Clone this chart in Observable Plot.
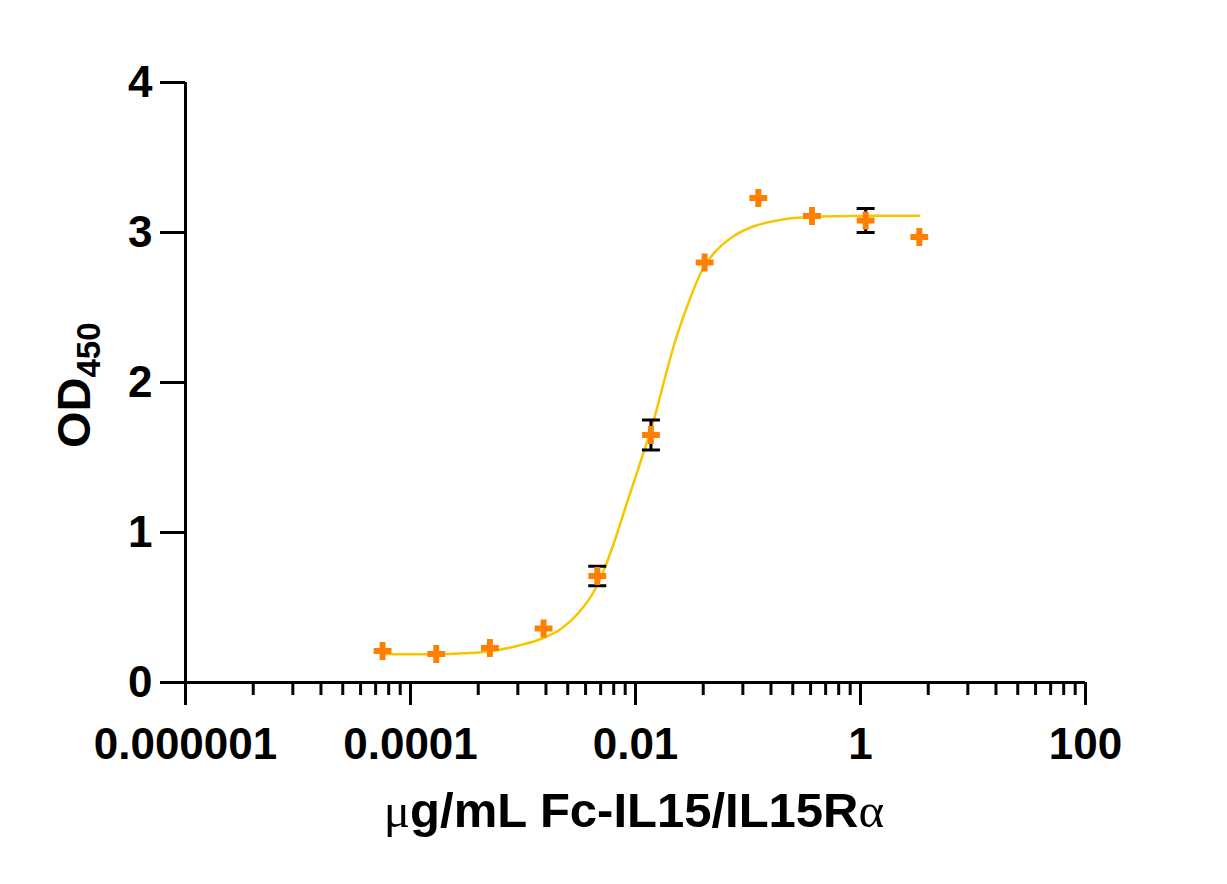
<!DOCTYPE html>
<html>
<head>
<meta charset="utf-8">
<script src="https://cdn.jsdelivr.net/npm/d3@7"></script>
<script src="https://cdn.jsdelivr.net/npm/@observablehq/plot@0.6"></script>
<style>
  html, body { margin: 0; padding: 0; background: #fff; }
  svg { display: block; }
</style>
</head>
<body>
<script>
// ---- data ----
const concentration = [3.333, 1.111, 0.3704, 0.1235, 0.04115, 0.01372, 0.004572, 0.001524, 0.000508, 0.0001694, 0.00005645];
const od450 = [2.97, 3.08, 3.11, 3.23, 2.80, 1.65, 0.71, 0.36, 0.23, 0.19, 0.21];
const sdev = [0, 0.08, 0, 0, 0, 0.10, 0.065, 0, 0, 0, 0];

// fitted curve
const curveX = [0.0000569, 0.0001, 0.000169, 0.0003, 0.000504, 0.0009, 0.0015, 0.0022, 0.00308, 0.00433, 0.0053, 0.0065, 0.008, 0.0098, 0.012, 0.0148, 0.0181, 0.0222, 0.0292, 0.0397, 0.054, 0.076, 0.107, 0.197, 0.365, 1.09, 3.33];
const curveY = [0.19, 0.188, 0.188, 0.195, 0.207, 0.245, 0.295, 0.36, 0.46, 0.615, 0.76, 0.94, 1.15, 1.35, 1.55, 1.77, 2.02, 2.26, 2.52, 2.76, 2.89, 2.98, 3.035, 3.085, 3.103, 3.111, 3.112];

const xMajorTicks = [1e-6, 1e-4, 1e-2, 1, 100];
const xTickLabels = ["0.000001", "0.0001", "0.01", "1", "100"];
const xMinorMultipliers = [4, 9, 16, 25, 36, 49, 64, 81];
const yTicks = [0, 1, 2, 3, 4];
const yTickLabels = ["0", "1", "2", "3", "4"];

// ---- build tables ----
const points = concentration.map((c, i) => ({x: c, y: od450[i], sd: sdev[i]}));
const errs = points.filter(d => d.sd > 0);
const caps = errs.flatMap(d => [{x: d.x, y: d.y + d.sd}, {x: d.x, y: d.y - d.sd}]);
const curve = curveX.map((x, i) => ({x, y: curveY[i]}));
const xMinorTicks = xMajorTicks.slice(0, -1).flatMap(t => xMinorMultipliers.map(m => t * m));

const capSymbol = {
  draw(context, size) {
    const r = Math.sqrt(size / Math.PI);
    context.moveTo(-r, 0);
    context.lineTo(r, 0);
  }
};

const font = "Liberation Sans, Arial, Helvetica, sans-serif";

const svg = Plot.plot({
  width: 1227,
  height: 884,
  marginLeft: 185,
  marginRight: 142,
  marginTop: 82,
  marginBottom: 202,
  style: {fontFamily: font, fontWeight: "bold", fontSize: "44px", color: "black", background: "white"},
  x: {type: "log", domain: [1e-6, 100], axis: null},
  y: {domain: [0, 4], axis: null},
  marks: [
    Plot.axisX(xMinorTicks, {tickSize: 13, tickFormat: () => "", strokeWidth: 3, label: null}),
    Plot.axisX(xMajorTicks, {
      tickSize: 23, tickPadding: 22, strokeWidth: 3, label: null,
      fontSize: 44, fontWeight: "bold",
      tickFormat: d => xTickLabels[xMajorTicks.indexOf(d)]
    }),
    Plot.axisY(yTicks, {
      tickSize: 25, tickPadding: 8, strokeWidth: 3, label: null,
      fontSize: 44, fontWeight: "bold",
      tickFormat: d => yTickLabels[yTicks.indexOf(d)]
    }),
    Plot.ruleY([0], {strokeWidth: 3, stroke: "black"}),
    Plot.ruleX([1e-6], {strokeWidth: 3, stroke: "black"}),
    Plot.line(curve, {x: "x", y: "y", stroke: "#F7C600", strokeWidth: 2.5, curve: "monotone-x"}),
    Plot.ruleX(errs, {x: "x", y1: d => d.y - d.sd, y2: d => d.y + d.sd, stroke: "black", strokeWidth: 3}),
    Plot.dot(caps, {x: "x", y: "y", symbol: capSymbol, r: 9, stroke: "black", strokeWidth: 3, fill: "none"}),
    Plot.dot(points, {x: "x", y: "y", symbol: "cross", r: 7.5, fill: "#FF8000", stroke: "none"})
  ]
});

document.body.appendChild(svg);

// axis titles
const s = d3.select(svg);
const yl = s.append("text")
  .attr("transform", "translate(90,448) rotate(-90)")
  .attr("text-anchor", "start")
  .attr("font-family", font)
  .attr("font-weight", "bold")
  .attr("font-size", 47)
  .attr("fill", "black");
yl.append("tspan").text("OD");
yl.append("tspan").attr("font-size", 33).attr("dy", 10).text("450");

const xl = s.append("text")
  .attr("x", 634).attr("y", 827)
  .attr("text-anchor", "middle")
  .attr("font-family", font)
  .attr("font-weight", "bold")
  .attr("font-size", 49)
  .attr("fill", "black");
xl.append("tspan").attr("font-family", "Liberation Serif, DejaVu Serif, serif").attr("font-weight", "normal").text("μ");
xl.append("tspan").text("g/mL Fc-IL15/IL15R");
xl.append("tspan").attr("font-family", "Liberation Serif, DejaVu Serif, serif").attr("font-weight", "normal").text("α");
</script>
</body>
</html>
